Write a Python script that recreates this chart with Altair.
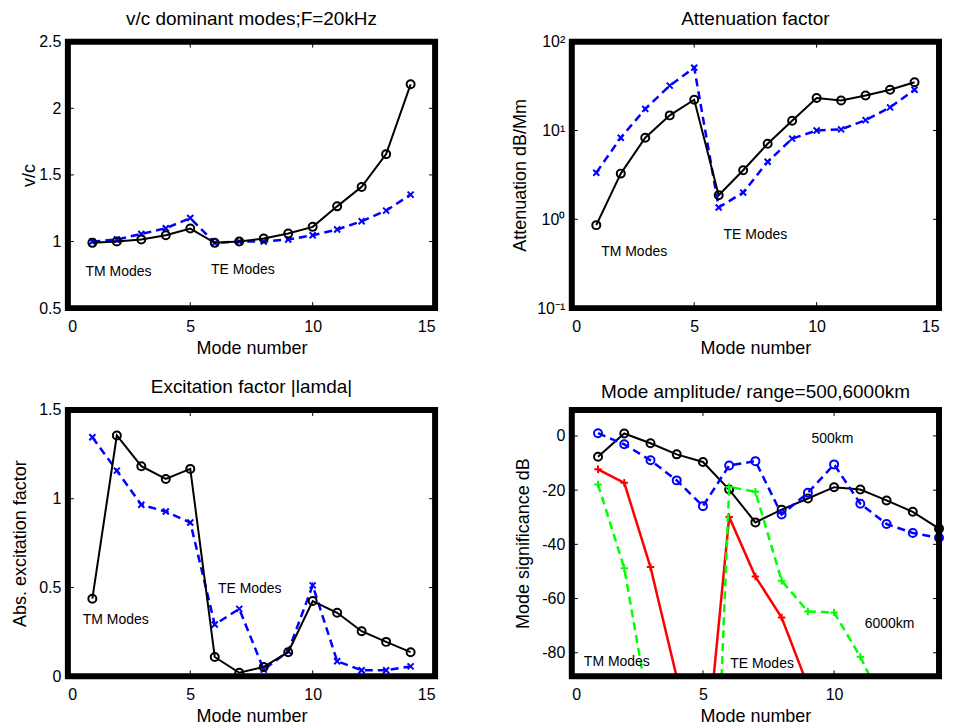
import altair as alt
import pandas as pd

FONT = "Liberation Sans"
W, H = 368, 267

# ---------------- data ----------------
modes = list(range(1, 15))

# panel 1: v/c
vc_black = [0.99, 1.0, 1.015, 1.047, 1.097, 0.99, 1.0, 1.022, 1.06, 1.11, 1.264, 1.41, 1.656, 2.18]
vc_blue = [1.0, 1.015, 1.057, 1.10, 1.176, 0.99, 1.0, 1.0, 1.015, 1.047, 1.09, 1.152, 1.232, 1.352]

# panel 2: attenuation dB/Mm
att_black = [0.86, 3.27, 8.3, 14.8, 22.2, 1.87, 3.57, 7.1, 12.9, 23.2, 21.8, 24.8, 28.8, 35.0]
att_blue = [3.35, 8.3, 17.5, 32.0, 51.0, 1.36, 2.0, 4.45, 8.1, 10.0, 10.3, 13.1, 18.2, 28.8]

# panel 3: excitation factor
exc_black = [0.437, 1.356, 1.183, 1.111, 1.168, 0.109, 0.02, 0.053, 0.136, 0.424, 0.358, 0.254, 0.194, 0.136]
exc_blue = [1.346, 1.158, 0.966, 0.928, 0.866, 0.292, 0.38, 0.038, 0.141, 0.512, 0.085, 0.034, 0.034, 0.056]

# panel 4: mode amplitude dB
amp_black = [-7.7, 0.9, -2.7, -6.8, -9.6, -19.8, -31.9, -27.2, -23.1, -18.9, -19.8, -23.8, -28.0, -34.2]
amp_blue = [1.0, -3.1, -9.0, -16.4, -25.9, -10.9, -9.3, -29.0, -21.0, -10.5, -25.0, -32.5, -35.8, -37.6]
red_modes = [1, 2, 3, 4, 5, 6, 7, 8, 9]
amp_red = [-12.3, -17.3, -48.4, -89.0, -129.6, -29.9, -51.9, -67.0, -92.2]
green_modes = [1, 2, 3, 5, 6, 7, 8, 9, 10, 11, 12]
amp_green = [-17.9, -48.8, -104.2, -259.8, -18.8, -20.6, -53.4, -64.8, -65.1, -81.5, -101.5]

# annotations
p1_text = ["TM Modes", "TE Modes"]
p1_tx = [0.72, 5.85]
p1_ty = [0.77, 0.785]
p2_text = ["TM Modes", "TE Modes"]
p2_tx = [1.2, 6.2]
p2_ty = [0.43, 0.665]
p3_text = ["TM Modes", "TE Modes"]
p3_tx = [0.61, 6.13]
p3_ty = [0.316, 0.493]
p4_text = ["500km", "6000km", "TM Modes", "TE Modes"]
p4_tx = [9.14, 11.17, 0.46, 6.04]
p4_ty = [-1.3, -69.3, -83.3, -84.1]

titles = ["v/c dominant modes;F=20kHz", "Attenuation factor",
          "Excitation factor |lamda|", "Mode amplitude/ range=500,6000km"]
ylabels = ["v/c", "Attenuation dB/Mm", "Abs. excitation factor", "Mode significance dB"]
xlabel = "Mode number"

# ---------------- helpers ----------------
CROSS = "M-1,-1L1,1M1,-1L-1,1"
PLUS = "M-1,0L1,0M0,-1L0,1"


def xaxis(values):
    return alt.Axis(values=values, title=xlabel, labelPadding=10, titlePadding=5,
                    minExtent=26, maxExtent=26, labelExpr="'' + datum.value")


def yaxis(title, values, ext, tp, expr="'' + datum.value"):
    return alt.Axis(values=values, title=title, labelPadding=7, titlePadding=tp,
                    minExtent=ext, maxExtent=ext, labelExpr=expr)


def make_panel(series, xs, ys, xax, yax, tx, ty, tt, xticks, yticks, title):
    X = lambda: alt.X("x:Q", scale=xs, axis=xax)
    Y = lambda: alt.Y("y:Q", scale=ys, axis=yax)
    layers = []
    L = 6
    dfx = pd.DataFrame({"x": xticks})
    dfy = pd.DataFrame({"y": yticks})
    rk = dict(color="black", strokeWidth=1)
    layers.append(alt.Chart(dfx).mark_rule(**rk).encode(X(), y=alt.value(0), y2=alt.value(L)))
    layers.append(alt.Chart(dfx).mark_rule(**rk).encode(X(), y=alt.value(H), y2=alt.value(H - L)))
    layers.append(alt.Chart(dfy).mark_rule(**rk).encode(Y(), x=alt.value(0), x2=alt.value(L)))
    layers.append(alt.Chart(dfy).mark_rule(**rk).encode(Y(), x=alt.value(W), x2=alt.value(W - L)))
    for s in series:
        df = pd.DataFrame({"x": s["x"], "y": s["y"]})
        clip = s.get("clip", False)
        lk = dict(color=s["color"], strokeWidth=s["lw"], clip=clip)
        if s.get("dash"):
            lk["strokeDash"] = s["dash"]
        layers.append(alt.Chart(df).mark_line(**lk).encode(X(), Y()))
        layers.append(alt.Chart(df).mark_point(shape=s["shape"], filled=False, color=s["color"],
                                               size=s["size"], strokeWidth=2, opacity=1,
                                               clip=clip).encode(X(), Y()))
    dft = pd.DataFrame({"x": tx, "y": ty, "t": tt})
    layers.append(alt.Chart(dft).mark_text(align="left", baseline="middle", fontSize=14,
                                           font=FONT, color="black").encode(X(), Y(), text="t:N"))
    layers.append(alt.Chart(alt.Data(values=[{"a": 1}])).mark_rect(
        fill="transparent", stroke="black", strokeWidth=6, strokeJoin="miter").encode(
        x=alt.value(0), x2=alt.value(W), y=alt.value(0), y2=alt.value(H)))
    return alt.layer(*layers).properties(
        width=W, height=H,
        title=alt.TitleParams(title, fontSize=19, font=FONT, fontWeight="normal", color="black",
                              offset=-10, baseline="alphabetic", frame="group", anchor="middle"))


BLACK = dict(color="black", lw=2, shape="circle", size=64)
BLUE_X = dict(color="blue", lw=2.5, dash=[8, 5], shape=CROSS, size=36)
BLUE_O = dict(color="blue", lw=2.5, dash=[8, 5], shape="circle", size=64)
RED = dict(color="red", lw=2.5, shape=PLUS, size=56, clip=True)
GREEN = dict(color="#00ff00", lw=2.5, dash=[8, 5], shape=PLUS, size=56, clip=True)

xs15 = alt.Scale(domain=[0, 15], nice=False, zero=False)
t15 = [0, 5, 10, 15]

p1 = make_panel(
    [dict(BLUE_X, x=modes, y=vc_blue), dict(BLACK, x=modes, y=vc_black)],
    xs15, alt.Scale(domain=[0.5, 2.5], nice=False, zero=False),
    xaxis(t15), yaxis(ylabels[0], [0.5, 1, 1.5, 2, 2.5], 25, 4),
    p1_tx, p1_ty, p1_text, t15, [0.5, 1, 1.5, 2, 2.5], titles[0])

logexpr = ("datum.value >= 99 ? '10\u00b2' : datum.value >= 9 ? '10\u00b9' : "
           "datum.value >= 0.9 ? '10\u2070' : '10\u207b\u00b9'")
p2 = make_panel(
    [dict(BLUE_X, x=modes, y=att_blue), dict(BLACK, x=modes, y=att_black)],
    xs15, alt.Scale(type="log", domain=[0.1, 100], nice=False),
    xaxis(t15), yaxis(ylabels[1], [0.1, 1, 10, 100], 38, 4, logexpr),
    p2_tx, p2_ty, p2_text, t15, [0.1, 1, 10, 100], titles[1])

p3 = make_panel(
    [dict(BLUE_X, x=modes, y=exc_blue), dict(BLACK, x=modes, y=exc_black)],
    xs15, alt.Scale(domain=[0, 1.5], nice=False, zero=False),
    xaxis(t15), yaxis(ylabels[2], [0, 0.5, 1, 1.5], 30, 8.5),
    p3_tx, p3_ty, p3_text, t15, [0, 0.5, 1, 1.5], titles[2])

p4 = make_panel(
    [dict(BLACK, x=modes, y=amp_black), dict(BLUE_O, x=modes, y=amp_blue),
     dict(RED, x=red_modes, y=amp_red), dict(GREEN, x=green_modes, y=amp_green)],
    alt.Scale(domain=[0, 14], nice=False, zero=False),
    alt.Scale(domain=[-88.7, 9.6], nice=False, zero=False),
    xaxis([0, 5, 10]), yaxis(ylabels[3], [-80, -60, -40, -20, 0], 30, 9),
    p4_tx, p4_ty, p4_text, [0, 5, 10], [-80, -60, -40, -20, 0], titles[3])

chart = alt.concat(p1, p2, p3, p4, columns=2, spacing={"row": 102, "column": 137},
                   bounds="flush").properties(
    padding={"left": 3, "top": 0, "right": 0, "bottom": 0}
).configure_view(stroke="transparent").configure_axis(
    grid=False, ticks=False, tickSize=0, domain=False,
    labelFont=FONT, titleFont=FONT, labelFontSize=16, titleFontSize=18,
    labelColor="black", titleColor="black", titleFontWeight="normal"
)

chart.save("out.html", embed_options={"renderer": "svg", "actions": False})
